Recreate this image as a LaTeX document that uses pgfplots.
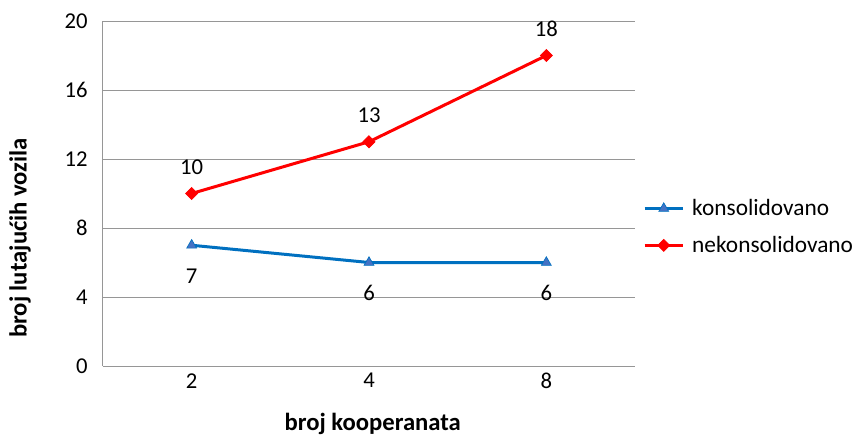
\documentclass[border=0pt]{standalone}
\usepackage{fontspec}
\setmainfont{Carlito}
\usepackage{pgfplots}
\pgfplotsset{compat=1.18}
\definecolor{lineblue}{RGB}{0,112,192}
\definecolor{markblue}{RGB}{68,114,196}
\definecolor{linered}{RGB}{255,0,0}
\definecolor{gridgray}{RGB}{150,150,150}

\begin{document}
\begin{tikzpicture}
\path[use as bounding box] (-77.25pt,-53.25pt) rectangle (565.5pt,274.5pt);
\begin{axis}[
    scale only axis,
    width=399pt, height=258.75pt,
    xmin=-0.5, xmax=2.5, ymin=0, ymax=20,
    xtick={0,1,2}, xticklabels={2,4,8},
    ytick={0,4,...,20},
    axis lines*=left,
    axis line style={gridgray, line width=0.75pt, -},
    ymajorgrids,
    grid style={gridgray, line width=0.75pt},
    major tick length=0pt,
    tick label style={font=\fontsize{17}{20}\selectfont, black},
    /pgf/number format/assume math mode=true,
    yticklabel style={xshift=-8pt},
    xticklabel style={yshift=-2pt},
    xlabel={\bfseries broj kooperanata},
    ylabel={\bfseries broj lutajućih vozila},
    label style={font=\fontsize{18.5}{22}\selectfont},
    xlabel style={at={(axis description cs:0.507,-0.168)}, anchor=center},
    ylabel style={at={(axis description cs:-0.156,0.371)}, anchor=center, rotate=0},
    legend style={at={(axis description cs:1.015,0.403)}, anchor=west,
        draw=none, fill=none, inner sep=0pt,
        font=\fontsize{17.5}{21}\selectfont, row sep=10pt,
        /tikz/every odd column/.append style={column sep=4pt}},
    legend cell align=left,
    legend image code/.code={%
        \draw[mark repeat=2, mark phase=2] plot coordinates {(0pt,0pt) (14.25pt,0pt) (28.5pt,0pt)};},
    nodes near coords,
    every node near coord/.append style={font=\fontsize{17}{20}\selectfont, black, anchor=center},
]
\addplot[lineblue, line width=2.25pt, mark=triangle*, mark size=4.3pt,
    mark options={fill=markblue, draw=lineblue, line width=0.5pt},
    every node near coord/.append style={yshift=-23pt}]
    coordinates {(0,7) (1,6) (2,6)};
\addlegendentry{konsolidovano}
\addplot[linered, line width=2.25pt, mark=square*, mark size=3.2pt,
    mark options={fill=linered, draw=linered, line width=0.5pt, rotate=45},
    every node near coord/.append style={yshift=20pt}]
    coordinates {(0,10) (1,13) (2,18)};
\addlegendentry{nekonsolidovano}
\end{axis}
\end{tikzpicture}
\end{document}
